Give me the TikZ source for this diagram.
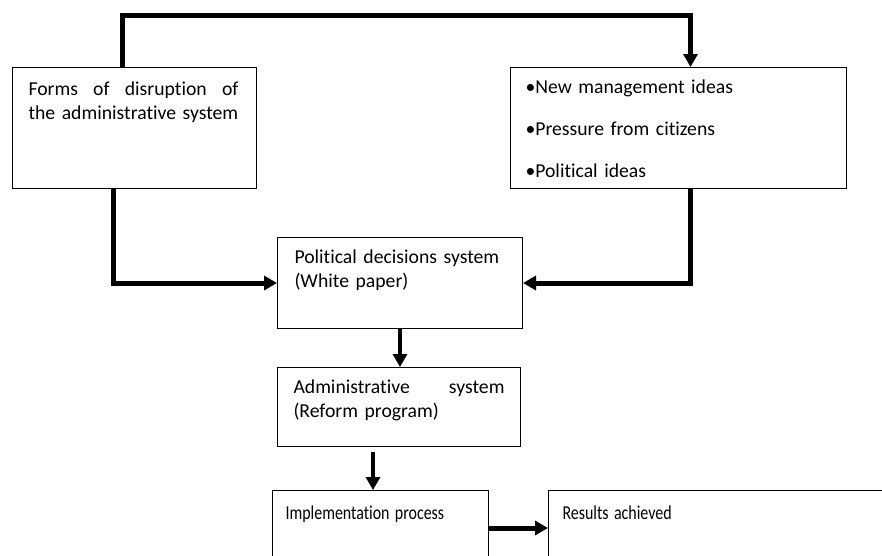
\documentclass[tikz,border=0pt]{standalone}
\usepackage{fontspec}
\usepackage{graphicx}
\setmainfont[Ligatures=NoCommon]{Carlito}
\usetikzlibrary{arrows.meta,calc}
\tikzset{pin/.style={line width=5pt, -{Triangle[length=13pt,width=14pt]}},
  blk/.style={draw, line width=1pt, anchor=north west, inner xsep=16pt, inner ysep=0pt,
    align=left, font=\fontsize{19.7}{24}\selectfont}}
\newcommand{\narrow}[1]{\scalebox{0.81}[1]{#1}}

\begin{document}
\begin{tikzpicture}[x=1pt, y=-1pt]
  \clip (0,0) rectangle (882,555);
  % upper row
  \node[blk, text width=212pt, text height=28pt, text depth=93pt] (forms) at (12,67)
    {\hbox to 210pt{Forms\hfill of\hfill disruption\hfill of}\\the administrative system};
  \node[blk, inner xsep=15pt, text width=306pt, text height=26pt, text depth=95pt] (ideas) at (510,67)
    {\textbullet New management ideas\\[18pt]\textbullet Pressure from citizens\\[18pt]\textbullet Political ideas};
  % middle column
  \node[blk, inner xsep=17pt, text width=211pt, text height=26pt, text depth=65pt] (pol) at (277,237)
    {Political decisions system\\(White paper)};
  \node[blk, text width=211pt, text height=26pt, text depth=53pt] (adm) at (277,367)
    {\hbox to 211pt{Administrative\hfill system}\\(Reform program)};
  % bottom row (runs off the page)
  \node[blk, inner xsep=13pt, text width=190pt, text height=29pt, text depth=100pt] (impl) at (272,490)
    {\narrow{Implementation process}};
  \node[blk, inner xsep=14pt, text width=324pt, text height=29pt, text depth=100pt] (res) at (548,490)
    {\narrow{Results achieved}};
  % loop over the top
  \draw[pin] ([xshift=-12pt]forms.north) -- ++(0,-52) -| ([xshift=12pt]ideas.north);
  % both upper boxes feed the decisions
  \draw[pin] ([xshift=-21pt]forms.south) |- (pol.west);
  \draw[pin] ([xshift=12pt]ideas.south) |- (pol.east);
  % chain downwards
  \draw[pin, line width=4pt] (pol.south) -- (pol.south |- adm.north);
  \draw[pin, line width=4pt, shorten <=5pt] ([xshift=-26pt]adm.south) -- ([xshift=-26pt]adm.south |- impl.north);
  \draw[pin] ($(impl.north east)+(0,38)$) -- ($(res.north west)+(0,38)$);
\end{tikzpicture}
\end{document}
